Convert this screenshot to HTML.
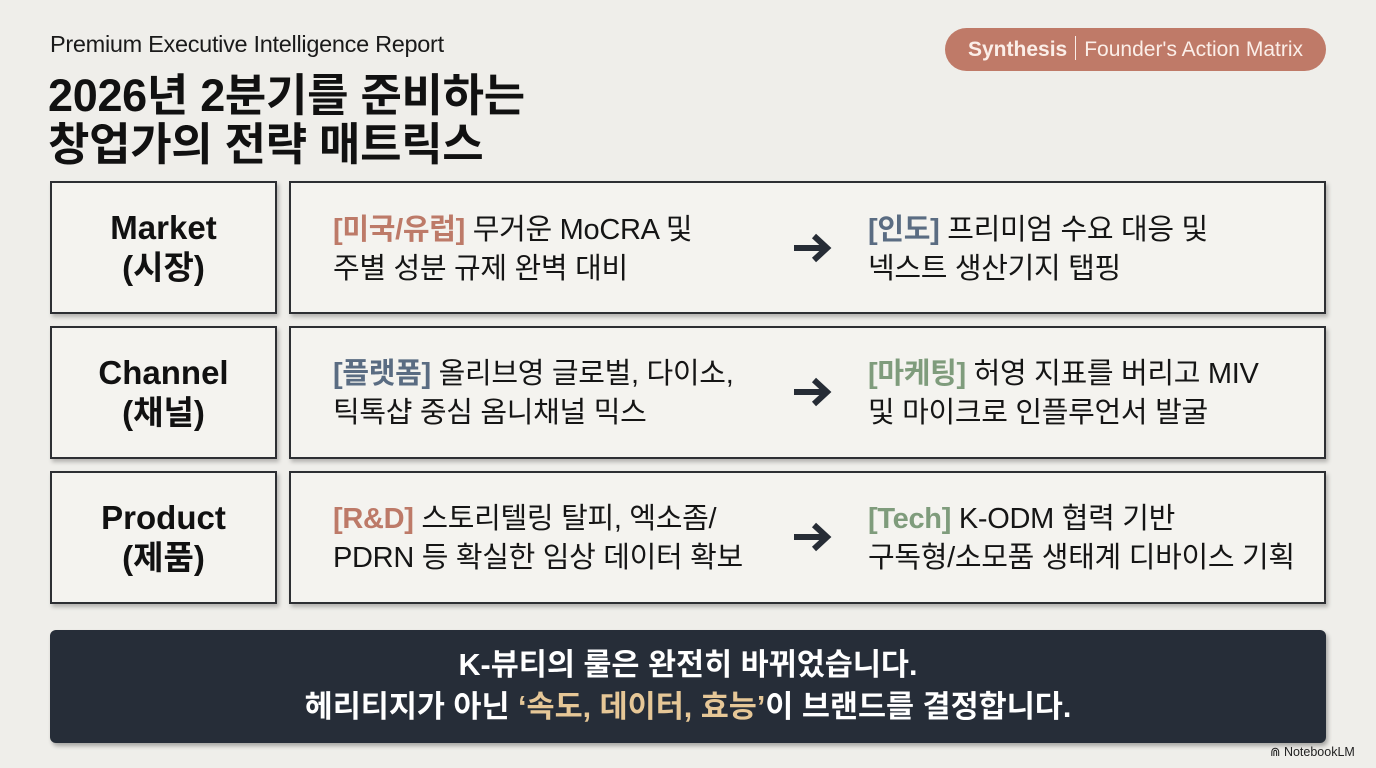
<!DOCTYPE html>
<html><head><meta charset="utf-8"><style>
*{margin:0;padding:0;box-sizing:border-box}
body{width:1376px;height:768px;background:#efeeea;font-family:"Liberation Sans","Noto Sans CJK KR",sans-serif;color:#111;position:relative;overflow:hidden}
.a{position:absolute}
.sub{left:50px;top:31px;font-size:23.5px;color:#1a1a1a;letter-spacing:-0.3px}
.title{left:48px;top:71px;font-size:45px;font-weight:700;line-height:49px;letter-spacing:-0.3px}
.pill{left:945px;top:28px;width:381px;height:43px;border-radius:22px;background:#bf7a68;color:#fbeee8;font-size:21px;line-height:43px;text-align:center}
.pill b{font-weight:700}
.pill span{display:inline-block;width:1px;height:24px;background:#fbeee8;vertical-align:middle;margin:0 8px 0 8px;position:relative;top:-2px}
.box{border:2px solid #2d2f33;background:#f4f3ef;box-shadow:2px 3px 4px rgba(0,0,0,0.25)}
.lab{display:flex;align-items:center;justify-content:center;text-align:center;font-weight:700;font-size:33px;line-height:40px}
.txt{font-size:29px;line-height:39px;color:#151515;letter-spacing:-0.3px}
.txt b{font-weight:700}
.c1{color:#bd7a68}.c2{color:#5a6c82}.c3{color:#7f9c7c}
.bot{left:50px;top:630px;width:1276px;height:113px;background:#262d38;border-radius:6px;box-shadow:2px 3px 4px rgba(0,0,0,0.3);color:#fff;font-weight:700;font-size:30.5px;line-height:42px;text-align:center;padding-top:14px}
.bot em{font-style:normal;color:#e6c797}
.nb{left:1270px;top:744px;font-size:12.5px;color:#222}
</style></head><body>
<div class="a sub">Premium Executive Intelligence Report</div>
<div class="a title">2026년 2분기를 준비하는<br>창업가의 전략 매트릭스</div>
<div class="a pill"><b>Synthesis</b><span></span>Founder's Action Matrix</div>

<div class="a box lab" style="left:50px;top:181px;width:227px;height:133px">Market<br>(시장)</div>
<div class="a box" style="left:289px;top:181px;width:1037px;height:133px"></div>
<div class="a txt" style="left:333px;top:211px"><b class="c1">[미국/유럽]</b> 무거운 MoCRA 및<br>주별 성분 규제 완벽 대비</div>
<div class="a txt" style="left:868px;top:211px"><b class="c2">[인도]</b> 프리미엄 수요 대응 및<br>넥스트 생산기지 탭핑</div>

<div class="a box lab" style="left:50px;top:326px;width:227px;height:133px">Channel<br>(채널)</div>
<div class="a box" style="left:289px;top:326px;width:1037px;height:133px"></div>
<div class="a txt" style="left:333px;top:355px"><b class="c2">[플랫폼]</b> 올리브영 글로벌, 다이소,<br>틱톡샵 중심 옴니채널 믹스</div>
<div class="a txt" style="left:868px;top:355px"><b class="c3">[마케팅]</b> 허영 지표를 버리고 MIV<br>및 마이크로 인플루언서 발굴</div>

<div class="a box lab" style="left:50px;top:471px;width:227px;height:133px">Product<br>(제품)</div>
<div class="a box" style="left:289px;top:471px;width:1037px;height:133px"></div>
<div class="a txt" style="left:333px;top:500px"><b class="c1">[R&amp;D]</b> 스토리텔링 탈피, 엑소좀/<br>PDRN 등 확실한 임상 데이터 확보</div>
<div class="a txt" style="left:868px;top:500px"><b class="c3">[Tech]</b> K-ODM 협력 기반<br>구독형/소모품 생태계 디바이스 기획</div>

<svg class="a" style="left:0;top:0" width="1376" height="768">
<g transform="translate(794,248)"><path d="M0 0 H33 M20 -12 L33 0 L20 12" stroke="#262c35" stroke-width="6" fill="none"/></g>
<g transform="translate(794,392)"><path d="M0 0 H33 M20 -12 L33 0 L20 12" stroke="#262c35" stroke-width="6" fill="none"/></g>
<g transform="translate(794,537)"><path d="M0 0 H33 M20 -12 L33 0 L20 12" stroke="#262c35" stroke-width="6" fill="none"/></g>
</svg>

<div class="a bot">K-뷰티의 룰은 완전히 바뀌었습니다.<br>헤리티지가 아닌 <em>‘속도, 데이터, 효능’</em>이 브랜드를 결정합니다.</div>
<div class="a nb">⋒ NotebookLM</div>
</body></html>
